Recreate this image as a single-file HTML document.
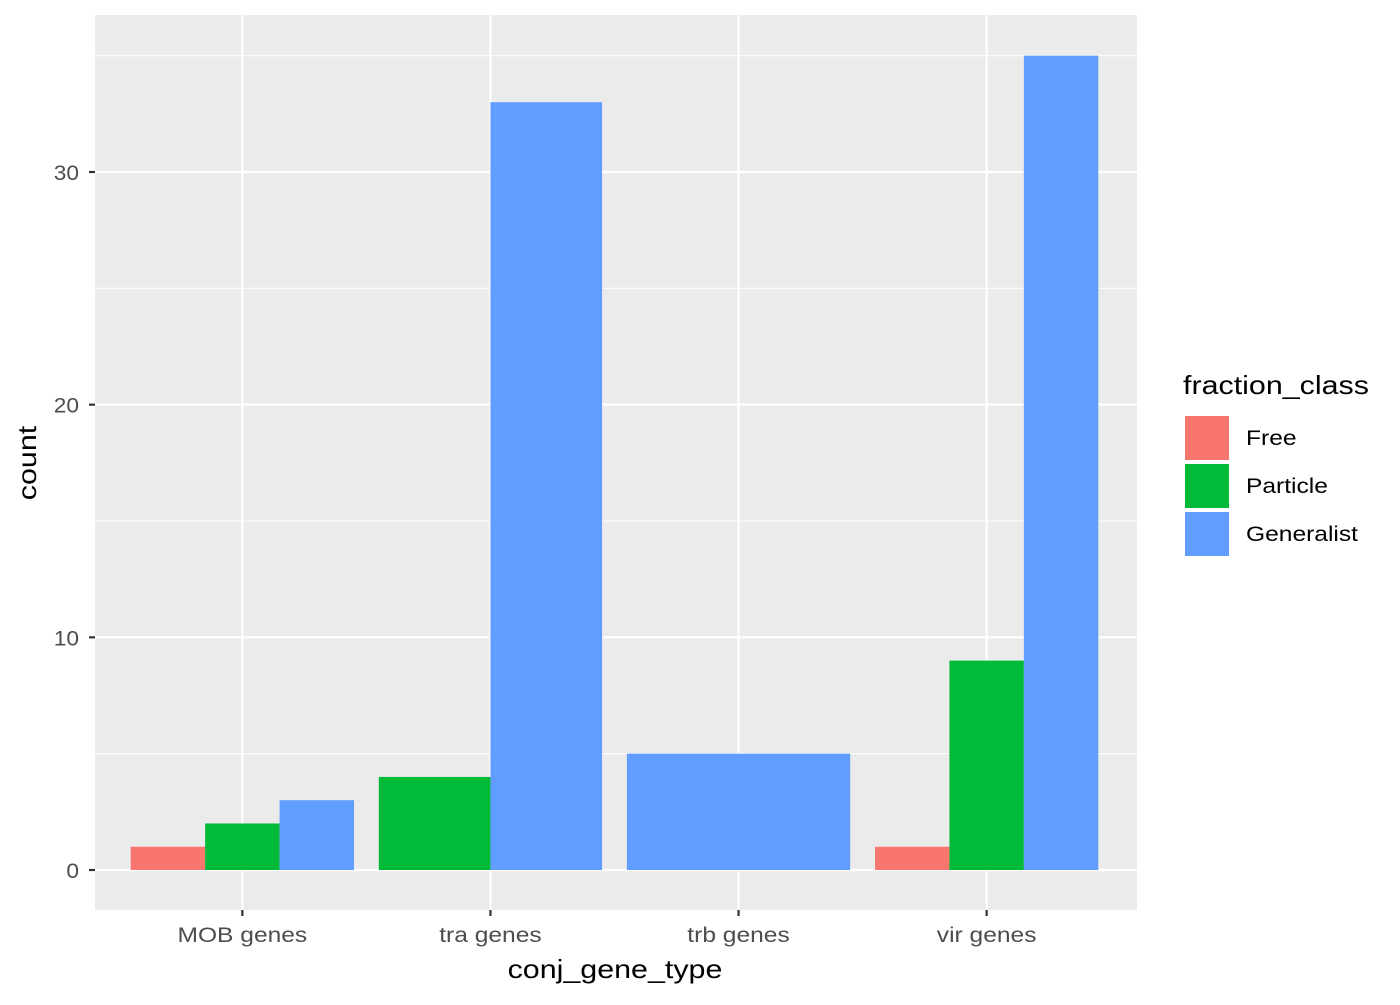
<!DOCTYPE html>
<html><head><meta charset="utf-8"><style>
body{margin:0;background:#fff;}
svg text{font-family:"Liberation Sans",Arial,sans-serif;}
</style></head><body>
<svg id="chart" width="1400" height="1000" xmlns="http://www.w3.org/2000/svg">
<rect x="95" y="15" width="1042" height="895" fill="#ebebeb"/>
<g id="grid"></g>
<g id="bars"></g>
<g id="axes"></g>
<text class="wide" x="36" y="463" font-size="26" text-anchor="middle" transform="rotate(-90 36 463)" fill="#000">count</text>
<text class="wide" x="615" y="978" font-size="26" text-anchor="middle" fill="#000">conj_gene_type</text>
<g id="legend">
<text class="wide" x="1183" y="394" font-size="26" fill="#000">fraction_class</text>
</g>
</svg>
<script>
const categories = ["MOB genes","tra genes","trb genes","vir genes"];
const seriesNames = ["Free","Particle","Generalist"];
const seriesColors = ["#f8766d","#00ba38","#619cff"];
const freeValues = [1, null, null, 1];
const particleValues = [2, 4, null, 9];
const generalistValues = [3, 33, 5, 35];
const yTicks = [0,10,20,30];
const yMinor = [5,15,25,35];

const NS="http://www.w3.org/2000/svg";
const px0=95, px1=1137, py0=15, py1=910;
const xMin=0.4, xMax=4.6;
function xs(v){return px0-1.5+(v-xMin)/(xMax-xMin)*(px1-px0);}
function ys(v){return 870 - v*23.267;}
function mk(tag,attrs,parent){const e=document.createElementNS(NS,tag);for(const k in attrs)e.setAttribute(k,attrs[k]);parent.appendChild(e);return e;}
const grid=document.getElementById('grid'), bars=document.getElementById('bars'), axes=document.getElementById('axes'), legend=document.getElementById('legend');
yMinor.forEach(v=>{const l=mk('line',{x1:px0,x2:px1,y1:ys(v),y2:ys(v),stroke:'#fff','stroke-width':1.1},grid);

});
yTicks.forEach(v=>{const l=mk('line',{x1:px0,x2:px1,y1:ys(v),y2:ys(v),stroke:'#fff','stroke-width':2.2},grid);


const t=mk('line',{x1:89,x2:95,y1:ys(v),y2:ys(v),stroke:'#333','stroke-width':2.2},axes);


const tx=mk('text',{x:79,y:ys(v)+8,'font-size':21,'text-anchor':'end',fill:'#4d4d4d','class':'ywide'},axes);tx.textContent=v;

});
categories.forEach((c,i)=>{const x=xs(i+1);
const l=mk('line',{x1:x,x2:x,y1:py0,y2:py1,stroke:'#fff','stroke-width':2.2},grid);


const t=mk('line',{x1:x,x2:x,y1:910,y2:916,stroke:'#333','stroke-width':2.2},axes);


const tx=mk('text',{x:x,y:942,'font-size':21,'text-anchor':'middle',fill:'#4d4d4d','class':'wide'},axes);tx.textContent=c;


const vals=[freeValues[i],particleValues[i],generalistValues[i]];
const present=[];vals.forEach((v,j)=>{if(v!=null)present.push(j);});
const w=0.9/present.length;
present.forEach((j,k)=>{const a=i+1-0.45+k*w;
const r=mk('rect',{x:xs(a),y:ys(vals[j]),width:xs(a+w)-xs(a),height:ys(0)-ys(vals[j]),fill:seriesColors[j]},bars);

});});
seriesNames.forEach((n,j)=>{const y=415+j*48;
const r=mk('rect',{x:1184,y:y,width:46,height:46,fill:seriesColors[j],stroke:'#fff','stroke-width':2},legend);


const t=mk('text',{x:1246,y:y+30,'font-size':21,fill:'#000','class':'wide'},legend);t.textContent=n;

});
document.querySelectorAll('text.wide').forEach(t=>{const L=t.getComputedTextLength();t.setAttribute('textLength',L*1.17);t.setAttribute('lengthAdjust','spacingAndGlyphs');});
document.querySelectorAll('text.ywide').forEach(t=>{const L=t.getComputedTextLength();t.setAttribute('textLength',L*1.08);t.setAttribute('lengthAdjust','spacingAndGlyphs');});
</script>
</body></html>
